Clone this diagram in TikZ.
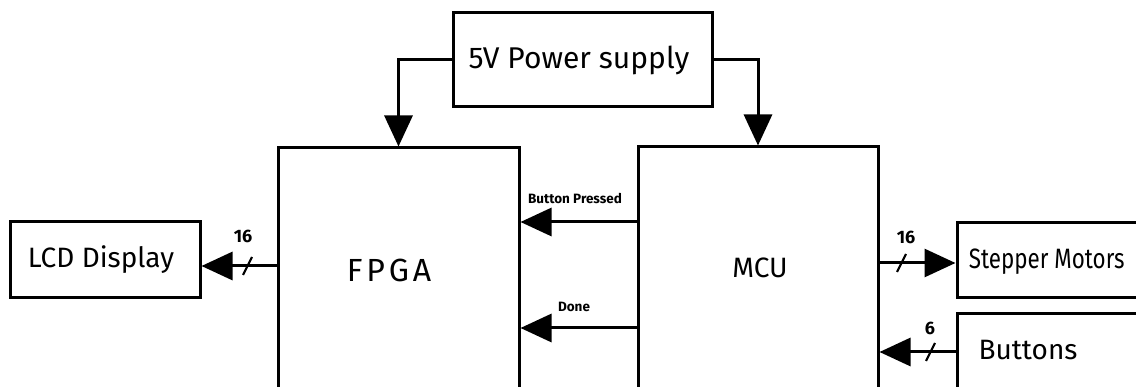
\documentclass[tikz,border=0pt]{standalone}
\usepackage{fontspec}
\setmainfont{Fira Sans}
\usetikzlibrary{arrows.meta}
\tikzset{
  box/.style={draw, line width=3pt, rectangle, inner sep=0pt},
  wire/.style={line width=3pt},
  arr/.style={line width=3pt, -{Triangle[length=31pt,width=28pt]}},
  slash/.style={line width=2.2pt},
  big/.style={font=\fontsize{28}{30}\selectfont},
  small/.style={font=\fontsize{13.5}{15}\selectfont\bfseries},
  num/.style={font=\fontsize{18}{20}\selectfont\bfseries},
}
\begin{document}
\begin{tikzpicture}[x=1pt,y=-1pt]
\clip (0,0) rectangle (1136,387);
\fill[white] (0,0) rectangle (1136,387);
% boxes
\node[box, minimum width=259pt, minimum height=94pt] (ps) at (582.5,60) {};
\node[box, minimum width=241pt, minimum height=300pt] (fpga) at (398.5,298) {};
\node[box, minimum width=240pt, minimum height=300pt] (mcu) at (758,297) {};
\node[box, minimum width=190pt, minimum height=76pt] (lcd) at (105,260) {};
\node[box, minimum width=220pt, minimum height=75pt] (step) at (1067,260.5) {};
\node[box, minimum width=220pt, minimum height=130pt] (btn) at (1067,379) {};
% texts
\node[big, font=\fontsize{30}{32}\selectfont] (pst) at (579,60) {5V Power supply};
\node[big, font=\fontsize{32}{34}\selectfont\addfontfeature{LetterSpace=12}] (fpgat) at (389,270) {FPGA};
\node[big] (mcut) at (760,268) {MCU};
\node[big] (lcdt) at (101,260) {LCD Display};
\node[big, anchor=west, xscale=0.8, transform shape] (stept) at (966,262) {Stepper Motors};
\node[big, anchor=west] (btnt) at (975,350) {Buttons};
\node[small] (bpt) at (575,198) {Button Pressed};
\node[small] (donet) at (574,307) {Done};
% power connectors
\draw[arr] (ps.west) -| (fpga.north);
\draw[arr] (ps.east) -| (mcu.north);
% MCU -> FPGA
\draw[arr] (mcu.west |- 0,222) -- (fpga.east |- 0,222);
\draw[arr] (mcu.west |- 0,328) -- (fpga.east |- 0,328);
% FPGA -> LCD
\draw[arr] (fpga.west |- 0,266) -- (lcd.east |- 0,266);
\draw[slash] (243,275) -- (252,257);
\node[num] (n16a) at (243,236) {16};
% MCU -> Stepper
\draw[arr] (mcu.east |- 0,263) -- (step.west |- 0,263);
\draw[slash] (897,272) -- (906,254);
\node[num] (n16b) at (906,237) {16};
% Buttons -> MCU
\draw[arr] (btn.west |- 0,352) -- (mcu.east |- 0,352);
\draw[slash] (926,361) -- (935,343);
\node[num] (n6) at (930,328) {6};
\end{tikzpicture}
\end{document}
